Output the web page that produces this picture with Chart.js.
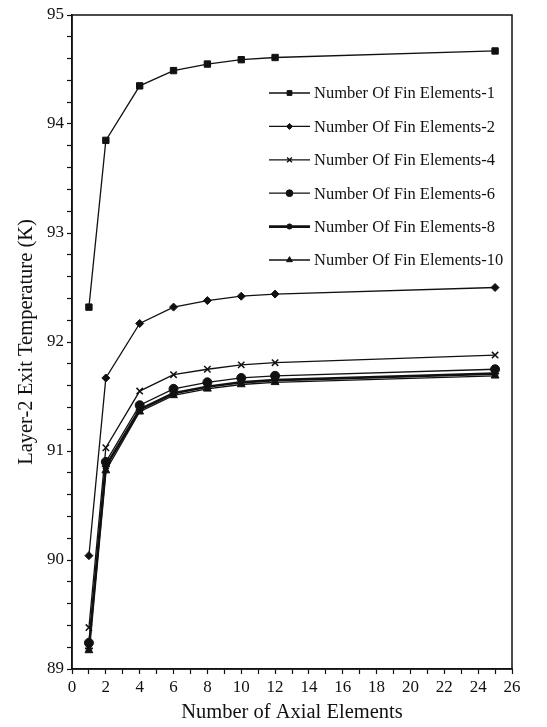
<!DOCTYPE html>
<html>
<head>
<meta charset="utf-8">
<script src="https://cdn.jsdelivr.net/npm/chart.js@4.4.0/dist/chart.umd.min.js"></script>
<style>
  html, body { margin: 0; padding: 0; background: #fff; }
  #wrap { width: 547px; height: 727px; }
</style>
</head>
<body>
<div id="wrap"><canvas id="chart" width="547" height="727"></canvas></div>
<script>
// axial element counts (x values)
const axialElements = [1, 2, 4, 6, 8, 10, 12, 25];

// exit temperature per fin element count
const fin1 = [92.32, 93.85, 94.35, 94.49, 94.55, 94.59, 94.61, 94.67];
const fin2 = [90.04, 91.67, 92.17, 92.32, 92.38, 92.42, 92.44, 92.50];
const fin4 = [89.38, 91.03, 91.55, 91.70, 91.75, 91.79, 91.81, 91.88];
const fin6 = [89.24, 90.90, 91.42, 91.57, 91.63, 91.67, 91.69, 91.75];
const fin8 = [89.19, 90.86, 91.38, 91.53, 91.59, 91.63, 91.65, 91.71];
const fin10 = [89.17, 90.82, 91.36, 91.51, 91.57, 91.61, 91.63, 91.69];

const seriesLabels = [
  "Number Of Fin Elements-1",
  "Number Of Fin Elements-2",
  "Number Of Fin Elements-4",
  "Number Of Fin Elements-6",
  "Number Of Fin Elements-8",
  "Number Of Fin Elements-10"
];

const FONT = "'Liberation Serif', 'Times New Roman', serif";

function pts(vals) {
  return vals.map((v, i) => ({ x: axialElements[i], y: v }));
}

function makeSet(label, vals, style, radius, width, ptBorder) {
  return {
    label: label,
    data: pts(vals),
    borderColor: "#111",
    backgroundColor: "#111",
    pointBackgroundColor: "#111",
    pointBorderColor: "#111",
    pointStyle: style,
    pointRadius: radius,
    pointBorderWidth: ptBorder,
    borderWidth: width,
    tension: 0,
    fill: false
  };
}

const datasets = [
  makeSet(seriesLabels[0], fin1, "rect", 4.5, 1.3, 1),
  makeSet(seriesLabels[1], fin2, "rectRot", 4, 1.3, 1),
  makeSet(seriesLabels[2], fin4, "crossRot", 4.5, 1.3, 1.5),
  makeSet(seriesLabels[3], fin6, "circle", 4.5, 1.3, 1),
  makeSet(seriesLabels[4], fin8, "star", 4, 2.6, 1.8),
  makeSet(seriesLabels[5], fin10, "triangle", 4.5, 1.3, 1)
];

// box around the plot area + legend drawn inside it
const framePlugin = {
  id: "frame",
  afterDraw(chart) {
    const ctx = chart.ctx;
    const a = chart.chartArea;
    ctx.save();
    ctx.strokeStyle = "#111";
    ctx.lineWidth = 1.5;
    ctx.strokeRect(a.left, a.top, a.right - a.left, a.bottom - a.top);

    // legend
    const x0 = 269, x1 = 310, tx = 314;
    let y = 93;
    ctx.font = "16.5px " + FONT;
    ctx.textBaseline = "middle";
    ctx.fillStyle = "#111";
    chart.data.datasets.forEach(ds => {
      ctx.strokeStyle = "#111";
      ctx.lineWidth = ds.borderWidth;
      ctx.beginPath();
      ctx.moveTo(x0, y);
      ctx.lineTo(x1, y);
      ctx.stroke();
      ctx.lineWidth = ds.pointBorderWidth;
      Chart.helpers.drawPoint(ctx, {
        pointStyle: ds.pointStyle,
        radius: ds.pointRadius * 0.75,
        borderWidth: ds.pointBorderWidth,
        rotation: 0
      }, (x0 + x1) / 2, y);
      ctx.fillText(ds.label, tx, y + 1);
      y += 33.4;
    });
    ctx.restore();
  }
};

new Chart(document.getElementById("chart"), {
  type: "line",
  data: { datasets: datasets },
  plugins: [framePlugin],
  options: {
    responsive: false,
    animation: false,
    layout: { padding: { top: 15, right: 35, bottom: 0, left: 0 } },
    plugins: {
      legend: { display: false },
      tooltip: { enabled: false }
    },
    scales: {
      x: {
        type: "linear",
        min: 0,
        max: 26,
        afterFit(scale) { scale.height = 58; },
        border: { color: "#111", width: 1.5 },
        grid: { drawOnChartArea: false, drawTicks: true, tickLength: 5, color: "#111", tickWidth: 1.2 },
        ticks: {
          stepSize: 1,
          autoSkip: false,
          maxRotation: 0,
          color: "#111",
          padding: 3,
          font: { family: FONT, size: 17 },
          callback: v => (v % 2 === 0 ? v : "")
        },
        title: {
          display: true,
          text: "Number of Axial Elements",
          color: "#111",
          font: { family: FONT, size: 20.5 },
          padding: { top: 4, bottom: 2 }
        }
      },
      y: {
        min: 89,
        max: 95,
        afterFit(scale) { scale.width = 72; },
        border: { color: "#111", width: 1.5 },
        grid: { drawOnChartArea: false, drawTicks: true, tickLength: 5, color: "#111", tickWidth: 1.2 },
        ticks: {
          stepSize: 0.2,
          autoSkip: false,
          color: "#111",
          padding: 3,
          font: { family: FONT, size: 17 },
          callback: v => (Math.abs(v - Math.round(v)) < 1e-6 ? Math.round(v) : "")
        },
        title: {
          display: true,
          text: "Layer-2 Exit Temperature (K)",
          color: "#111",
          font: { family: FONT, size: 20.5 },
          padding: { top: 14, bottom: 4 }
        }
      }
    }
  }
});
</script>
</body>
</html>
